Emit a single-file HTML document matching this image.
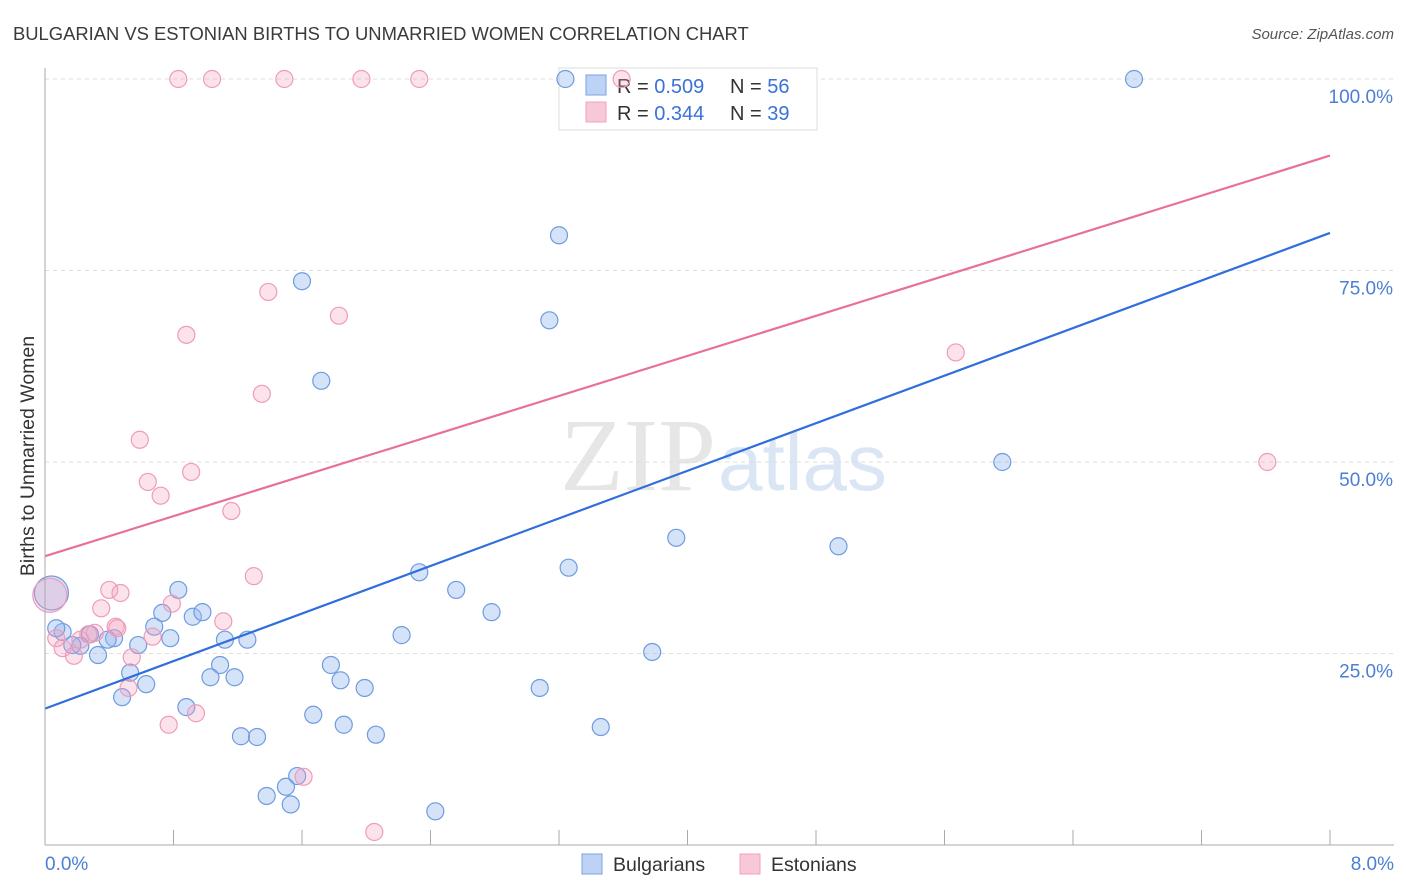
<!DOCTYPE html>
<html><head><meta charset="utf-8"><style>
body{margin:0;background:#fff;font-family:"Liberation Sans",sans-serif;}
#wrap{position:relative;width:1406px;height:892px;overflow:hidden;}
</style></head><body>
<div id="wrap">
<svg id="svg" width="1406" height="892" xmlns="http://www.w3.org/2000/svg">
<text x="13" y="40" font-size="18.4" fill="#3a3a3a">BULGARIAN VS ESTONIAN BIRTHS TO UNMARRIED WOMEN CORRELATION CHART</text>
<text x="1394" y="39" font-size="15" fill="#555" font-style="italic" text-anchor="end">Source: ZipAtlas.com</text>
<text x="716" y="490" font-size="104" fill="#e6e6e6" text-anchor="end" font-family="Liberation Serif,serif">ZIP</text>
<text x="718" y="490" font-size="80" fill="#dbe6f5">atlas</text>
<text transform="translate(34,456) rotate(-90)" font-size="19.5" fill="#333" text-anchor="middle">Births to Unmarried Women</text>
<g id="grid"></g>
<g>
<rect x="559" y="68" width="258" height="62" fill="#fff" stroke="#ddd"/>
<rect x="586" y="75" width="20" height="20" fill="#bcd3f5" stroke="#7aa3e5"/>
<rect x="586" y="102" width="20" height="20" fill="#f9c8d8" stroke="#f0a0bc"/>
<text x="617" y="93" font-size="20" fill="#333">R = <tspan fill="#3a72d8">0.509</tspan><tspan x="730">N = </tspan><tspan fill="#3a72d8">56</tspan></text>
<text x="617" y="120" font-size="20" fill="#333">R = <tspan fill="#3a72d8">0.344</tspan><tspan x="730">N = </tspan><tspan fill="#3a72d8">39</tspan></text>
</g>
<g id="pts"></g><g id="lines"></g>
<line x1="45" y1="68" x2="45" y2="845" stroke="#aaa"/>
<line x1="45" y1="845" x2="1394" y2="845" stroke="#aaa"/>
<text x="45" y="870" font-size="19" fill="#4a7fd4">0.0%</text>
<text x="1394" y="870" font-size="19" fill="#4a7fd4" text-anchor="end">8.0%</text>
<g>
<rect x="582" y="854" width="20" height="20" fill="#bcd3f5" stroke="#7aa3e5"/>
<text x="613" y="871" font-size="19.5" fill="#333">Bulgarians</text>
<rect x="740" y="854" width="20" height="20" fill="#f9c8d8" stroke="#f0a0bc"/>
<text x="771" y="871" font-size="19.5" fill="#333">Estonians</text>
</g>
</svg>
</div>
<script>
const yTicks=[25,50,75,100];
const yTickLabels=["25.0%","50.0%","75.0%","100.0%"];
const xTicks=[0.8,1.6,2.4,3.2,4.0,4.8,5.6,6.4,7.2,8.0];
const bulX=[3.24,6.78,3.20,1.60,3.14,1.72,5.96,3.93,4.94,3.26,2.33,2.56,0.83,2.78,0.73,0.92,0.98,0.68,2.22,0.78,1.12,1.26,0.43,0.39,0.58,0.11,0.28,0.22,0.17,0.33,0.07,3.78,1.78,1.09,0.53,1.03,1.18,1.84,0.63,1.99,3.08,0.48,0.88,1.67,1.86,3.46,1.22,1.32,2.06,1.57,1.50,1.38,1.53,2.43,0.04];
const bulY=[100,100,79.6,73.6,68.5,60.6,50.0,40.1,39.0,36.2,35.6,33.3,33.3,30.4,30.3,29.8,30.4,28.5,27.4,27.0,26.8,26.8,27.0,26.8,26.1,27.8,27.5,26.0,26.1,24.8,28.3,25.2,23.5,23.5,22.5,21.9,21.9,21.5,21.0,20.5,20.5,19.3,18.0,17.0,15.7,15.4,14.2,14.1,14.4,9.0,7.6,6.4,5.3,4.4,32.9];
const estX=[0.83,1.04,1.49,1.97,2.33,3.59,1.39,1.83,0.88,5.67,1.35,0.59,0.91,0.64,0.72,1.16,7.61,1.30,0.40,0.47,0.35,0.79,1.11,0.44,0.31,0.67,0.22,0.07,0.11,0.18,0.54,0.52,0.94,0.77,1.61,2.05,0.03,0.27,0.45];
const estY=[100,100,100,100,100,100,72.2,69.1,66.6,64.3,58.9,52.9,48.7,47.4,45.6,43.6,50.0,35.1,33.3,32.9,30.9,31.5,29.2,28.5,27.7,27.2,26.8,27.0,25.7,24.7,24.5,20.5,17.2,15.7,8.9,1.7,32.6,27.5,28.3];
const bulTrend=[17.8,79.9];
const estTrend=[37.7,90.0];
const NS="http://www.w3.org/2000/svg";
const xs=v=>45+v/8*1285;
const ys=v=>845-v/100*766;
function mk(tag,attrs,parent){const e=document.createElementNS(NS,tag);for(const k in attrs)e.setAttribute(k,attrs[k]);parent.appendChild(e);return e;}
const grid=document.getElementById('grid');
yTicks.forEach((t,i)=>{
 const l=mk('line',{x1:45,x2:1394,y1:ys(t),y2:ys(t),stroke:'#ddd','stroke-dasharray':'4,4'},grid);
 
 
 const tx=mk('text',{x:1393,y:ys(t)+24,'font-size':19,fill:'#4a7fd4','text-anchor':'end'},grid);
 tx.textContent=yTickLabels[i];
 
 
});
xTicks.forEach(t=>{
 const l=mk('line',{x1:xs(t),x2:xs(t),y1:830,y2:845,stroke:'#aaa'},grid);
 
 
});
const pts=document.getElementById('pts');
function dots(X,Y,fill,stroke,name){
 X.forEach((x,i)=>{
  const big=(x<0.05&&Y[i]>32&&Y[i]<34);
  const c=mk('circle',{cx:xs(x),cy:ys(Y[i]),r:big?17:8.5,fill:fill,stroke:stroke,'stroke-width':1.2},pts);
  
  
 });
}
dots(bulX,bulY,'rgba(150,185,240,0.4)','#6f9be0','bulgarian-point');
dots(estX,estY,'rgba(245,160,190,0.3)','#ee9cb8','estonian-point');
const lines=document.getElementById('lines');
const b=mk('line',{x1:xs(0),y1:ys(bulTrend[0]),x2:xs(8),y2:ys(bulTrend[1]),stroke:'#2f6fdc','stroke-width':2.2},lines);


const e=mk('line',{x1:xs(0),y1:ys(estTrend[0]),x2:xs(8),y2:ys(estTrend[1]),stroke:'#e8709a','stroke-width':2.2},lines);


</script>
</body></html>
